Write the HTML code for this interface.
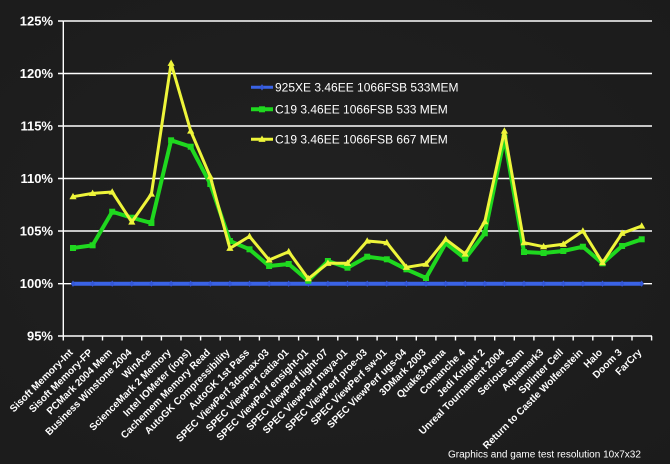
<!DOCTYPE html>
<html><head><meta charset="utf-8"><style>
html,body{margin:0;padding:0;background:#1e1e1e;}
svg{display:block;}
text{font-family:"Liberation Sans",Arial,sans-serif;fill:#fff;}
.yl{font-size:13px;font-weight:bold;text-anchor:end;}
.xl{font-size:10px;font-weight:bold;text-anchor:end;}
.lg{font-size:12px;}
</style></head><body>
<svg width="670" height="464" viewBox="0 0 670 464" xmlns="http://www.w3.org/2000/svg">
<defs>
<radialGradient id="bg" cx="0.45" cy="0.5" r="0.75">
<stop offset="0" stop-color="#212121"/><stop offset="1" stop-color="#1b1b1b"/>
</radialGradient>
<path id="tri" d="M0,-3.8 L3.6,2.6 L-3.6,2.6 Z"/>
<path id="dia" d="M0,-3.2 L2.2,0 L0,3.2 L-2.2,0 Z"/>
</defs>
<rect width="670" height="464" fill="url(#bg)"/>
<!-- gridlines -->
<g stroke="#fff" stroke-width="1.4">
<line x1="63.3" y1="21" x2="652" y2="21"/>
<line x1="63.3" y1="73.5" x2="652" y2="73.5"/>
<line x1="63.3" y1="126" x2="652" y2="126"/>
<line x1="63.3" y1="178.5" x2="652" y2="178.5"/>
<line x1="63.3" y1="231" x2="652" y2="231"/>
<line x1="63.3" y1="283.7" x2="652" y2="283.7"/>
<line x1="63.3" y1="336" x2="652" y2="336"/>
<line x1="63.3" y1="21" x2="63.3" y2="336"/>
<path d="M58,21h5.3M58,73.5h5.3M58,126h5.3M58,178.5h5.3M58,231h5.3M58,283.7h5.3M58,336h5.3" />
<path d="M63.3,336v4.5M82.9,336v4.5M102.5,336v4.5M122.1,336v4.5M141.7,336v4.5M161.4,336v4.5M181,336v4.5M200.6,336v4.5M220.2,336v4.5M239.8,336v4.5M259.4,336v4.5M279,336v4.5M298.6,336v4.5M318.2,336v4.5M337.8,336v4.5M357.5,336v4.5M377.1,336v4.5M396.7,336v4.5M416.3,336v4.5M435.9,336v4.5M455.5,336v4.5M475.1,336v4.5M494.7,336v4.5M514.3,336v4.5M533.9,336v4.5M553.6,336v4.5M573.2,336v4.5M592.8,336v4.5M612.4,336v4.5M632,336v4.5M651.6,336v4.5"/>
</g>
<!-- y labels -->
<text class="yl" x="53" y="25.5">125%</text>
<text class="yl" x="53" y="78">120%</text>
<text class="yl" x="53" y="130.5">115%</text>
<text class="yl" x="53" y="183">110%</text>
<text class="yl" x="53" y="235.5">105%</text>
<text class="yl" x="53" y="288.2">100%</text>
<text class="yl" x="53" y="340.5">95%</text>

<!-- blue series -->
<line x1="73" y1="283.7" x2="641.7" y2="283.7" stroke="#3a63e6" stroke-width="4"/>
<g fill="#3558d8">
<use href="#dia" x="73" y="283.7"/><use href="#dia" x="92.6" y="283.7"/><use href="#dia" x="112.2" y="283.7"/><use href="#dia" x="131.8" y="283.7"/><use href="#dia" x="151.4" y="283.7"/><use href="#dia" x="171.1" y="283.7"/><use href="#dia" x="190.7" y="283.7"/><use href="#dia" x="210.3" y="283.7"/><use href="#dia" x="229.9" y="283.7"/><use href="#dia" x="249.5" y="283.7"/><use href="#dia" x="269.1" y="283.7"/><use href="#dia" x="288.7" y="283.7"/><use href="#dia" x="308.3" y="283.7"/><use href="#dia" x="327.9" y="283.7"/><use href="#dia" x="347.5" y="283.7"/><use href="#dia" x="367.2" y="283.7"/><use href="#dia" x="386.8" y="283.7"/><use href="#dia" x="406.4" y="283.7"/><use href="#dia" x="426" y="283.7"/><use href="#dia" x="445.7" y="283.7"/><use href="#dia" x="465.2" y="283.7"/><use href="#dia" x="484.8" y="283.7"/><use href="#dia" x="504.4" y="283.7"/><use href="#dia" x="524" y="283.7"/><use href="#dia" x="543.6" y="283.7"/><use href="#dia" x="563.3" y="283.7"/><use href="#dia" x="582.9" y="283.7"/><use href="#dia" x="602.5" y="283.7"/><use href="#dia" x="622.1" y="283.7"/><use href="#dia" x="641.7" y="283.7"/>
</g>

<!-- green series -->
<polyline fill="none" stroke="#1fd81f" stroke-width="4" stroke-linejoin="round" points="73,248 92.6,245.3 112.2,211.7 131.8,217.7 151.4,223 171.1,140.3 190.7,146.7 210.3,184 229.9,241 249.5,249.3 269.1,266 288.7,264 308.3,280.7 327.9,261 347.5,267.7 367.2,256.7 386.8,259.3 406.4,269.3 426,278 445.7,243.3 465.2,258.7 484.8,233.3 504.4,137.7 524,252 543.6,253 563.3,251 582.9,246.7 602.5,263.3 622.1,246 641.7,239.3"/>
<g fill="#1fd81f">
<rect x="70" y="245" width="6" height="6"/><rect x="89.6" y="242.3" width="6" height="6"/><rect x="109.2" y="208.7" width="6" height="6"/><rect x="128.8" y="214.7" width="6" height="6"/><rect x="148.4" y="220" width="6" height="6"/><rect x="168.1" y="137.3" width="6" height="6"/><rect x="187.7" y="143.7" width="6" height="6"/><rect x="207.3" y="181" width="6" height="6"/><rect x="226.9" y="238" width="6" height="6"/><rect x="246.5" y="246.3" width="6" height="6"/><rect x="266.1" y="263" width="6" height="6"/><rect x="285.7" y="261" width="6" height="6"/><rect x="305.3" y="277.7" width="6" height="6"/><rect x="324.9" y="258" width="6" height="6"/><rect x="344.5" y="264.7" width="6" height="6"/><rect x="364.2" y="253.7" width="6" height="6"/><rect x="383.8" y="256.3" width="6" height="6"/><rect x="403.4" y="266.3" width="6" height="6"/><rect x="423" y="275" width="6" height="6"/><rect x="442.7" y="240.3" width="6" height="6"/><rect x="462.2" y="255.7" width="6" height="6"/><rect x="481.8" y="230.3" width="6" height="6"/><rect x="501.4" y="134.7" width="6" height="6"/><rect x="521" y="249" width="6" height="6"/><rect x="540.6" y="250" width="6" height="6"/><rect x="560.3" y="248" width="6" height="6"/><rect x="579.9" y="243.7" width="6" height="6"/><rect x="599.5" y="260.3" width="6" height="6"/><rect x="619.1" y="243" width="6" height="6"/><rect x="638.7" y="236.3" width="6" height="6"/>
</g>

<!-- yellow series -->
<polyline fill="none" stroke="#eef53a" stroke-width="3" stroke-linejoin="round" points="73,196.7 92.6,193.4 112.2,192 131.8,222 151.4,194 171.1,63.3 190.7,131 210.3,176.7 229.9,248.3 249.5,236.4 269.1,260 288.7,251.7 308.3,278.7 327.9,263.3 347.5,263.3 367.2,241 386.8,242.7 406.4,267.3 426,264.1 445.7,239.3 465.2,254 484.8,221.7 504.4,131 524,242.7 543.6,246.7 563.3,244.3 582.9,231 602.5,262.7 622.1,233.3 641.7,226"/>
<g fill="#eef53a">
<use href="#tri" x="73" y="196.7"/><use href="#tri" x="92.6" y="193.4"/><use href="#tri" x="112.2" y="192"/><use href="#tri" x="131.8" y="222"/><use href="#tri" x="151.4" y="194"/><use href="#tri" x="171.1" y="63.3"/><use href="#tri" x="190.7" y="131"/><use href="#tri" x="210.3" y="176.7"/><use href="#tri" x="229.9" y="248.3"/><use href="#tri" x="249.5" y="236.4"/><use href="#tri" x="269.1" y="260"/><use href="#tri" x="288.7" y="251.7"/><use href="#tri" x="308.3" y="278.7"/><use href="#tri" x="327.9" y="263.3"/><use href="#tri" x="347.5" y="263.3"/><use href="#tri" x="367.2" y="241"/><use href="#tri" x="386.8" y="242.7"/><use href="#tri" x="406.4" y="267.3"/><use href="#tri" x="426" y="264.1"/><use href="#tri" x="445.7" y="239.3"/><use href="#tri" x="465.2" y="254"/><use href="#tri" x="484.8" y="221.7"/><use href="#tri" x="504.4" y="131"/><use href="#tri" x="524" y="242.7"/><use href="#tri" x="543.6" y="246.7"/><use href="#tri" x="563.3" y="244.3"/><use href="#tri" x="582.9" y="231"/><use href="#tri" x="602.5" y="262.7"/><use href="#tri" x="622.1" y="233.3"/><use href="#tri" x="641.7" y="226"/>
</g>

<!-- legend -->
<line x1="251" y1="87.3" x2="273" y2="87.3" stroke="#3a63e6" stroke-width="3"/>
<use href="#dia" x="262" y="87.3" fill="#3558d8"/>
<text class="lg" x="275" y="91.5">925XE 3.46EE 1066FSB 533MEM</text>
<line x1="251" y1="109.3" x2="273" y2="109.3" stroke="#1fd81f" stroke-width="4"/>
<rect x="259" y="106.3" width="6" height="6" fill="#1fd81f"/>
<text class="lg" x="275" y="113.5">C19 3.46EE 1066FSB 533 MEM</text>
<line x1="251" y1="139.3" x2="273" y2="139.3" stroke="#eef53a" stroke-width="3"/>
<use href="#tri" x="262" y="139.3" fill="#eef53a"/>
<text class="lg" x="275" y="143.5">C19 3.46EE 1066FSB 667 MEM</text>

<!-- x labels -->
<g class="xlg">
<text class="xl" transform="translate(73.5,353) rotate(-45)">Sisoft Memory-Int</text>
<text class="xl" transform="translate(93.1,353) rotate(-45)">Sisoft Memory-FP</text>
<text class="xl" transform="translate(112.7,353) rotate(-45)">PCMark 2004 Mem</text>
<text class="xl" transform="translate(132.3,353) rotate(-45)">Business Winstone 2004</text>
<text class="xl" transform="translate(151.9,353) rotate(-45)">WinAce</text>
<text class="xl" transform="translate(171.6,353) rotate(-45)">ScienceMark 2 Memory</text>
<text class="xl" transform="translate(191.2,353) rotate(-45)">Intel IOMeter (iops)</text>
<text class="xl" transform="translate(210.8,353) rotate(-45)">Cachemem Memory Read</text>
<text class="xl" transform="translate(230.4,353) rotate(-45)">AutoGK Compressibility</text>
<text class="xl" transform="translate(250,353) rotate(-45)">AutoGK 1st Pass</text>
<text class="xl" transform="translate(269.6,353) rotate(-45)">SPEC ViewPerf 3dsmax-03</text>
<text class="xl" transform="translate(289.2,353) rotate(-45)">SPEC ViewPerf catia-01</text>
<text class="xl" transform="translate(308.8,353) rotate(-45)">SPEC ViewPerf ensight-01</text>
<text class="xl" transform="translate(328.4,353) rotate(-45)">SPEC ViewPerf light-07</text>
<text class="xl" transform="translate(348,353) rotate(-45)">SPEC ViewPerf maya-01</text>
<text class="xl" transform="translate(367.7,353) rotate(-45)">SPEC ViewPerf proe-03</text>
<text class="xl" transform="translate(387.3,353) rotate(-45)">SPEC ViewPerf sw-01</text>
<text class="xl" transform="translate(406.9,353) rotate(-45)">SPEC ViewPerf ugs-04</text>
<text class="xl" transform="translate(426.5,353) rotate(-45)">3DMark 2003</text>
<text class="xl" transform="translate(446.2,353) rotate(-45)">Quake3Arena</text>
<text class="xl" transform="translate(465.7,353) rotate(-45)">Comanche 4</text>
<text class="xl" transform="translate(485.3,353) rotate(-45)">Jedi Knight 2</text>
<text class="xl" transform="translate(504.9,353) rotate(-45)">Unreal Tournament 2004</text>
<text class="xl" transform="translate(524.5,353) rotate(-45)">Serious Sam</text>
<text class="xl" transform="translate(544.1,353) rotate(-45)">Aquamark3</text>
<text class="xl" transform="translate(563.8,353) rotate(-45)">Splinter Cell</text>
<text class="xl" transform="translate(583.4,353) rotate(-45)">Return to Castle Wolfenstein</text>
<text class="xl" transform="translate(603,353) rotate(-45)">Halo</text>
<text class="xl" transform="translate(622.6,353) rotate(-45)">Doom 3</text>
<text class="xl" transform="translate(642.2,353) rotate(-45)">FarCry</text>
</g>

<text x="448" y="457.5" style="font-size:10px;">Graphics and game test resolution 10x7x32</text>
</svg>
</body></html>
